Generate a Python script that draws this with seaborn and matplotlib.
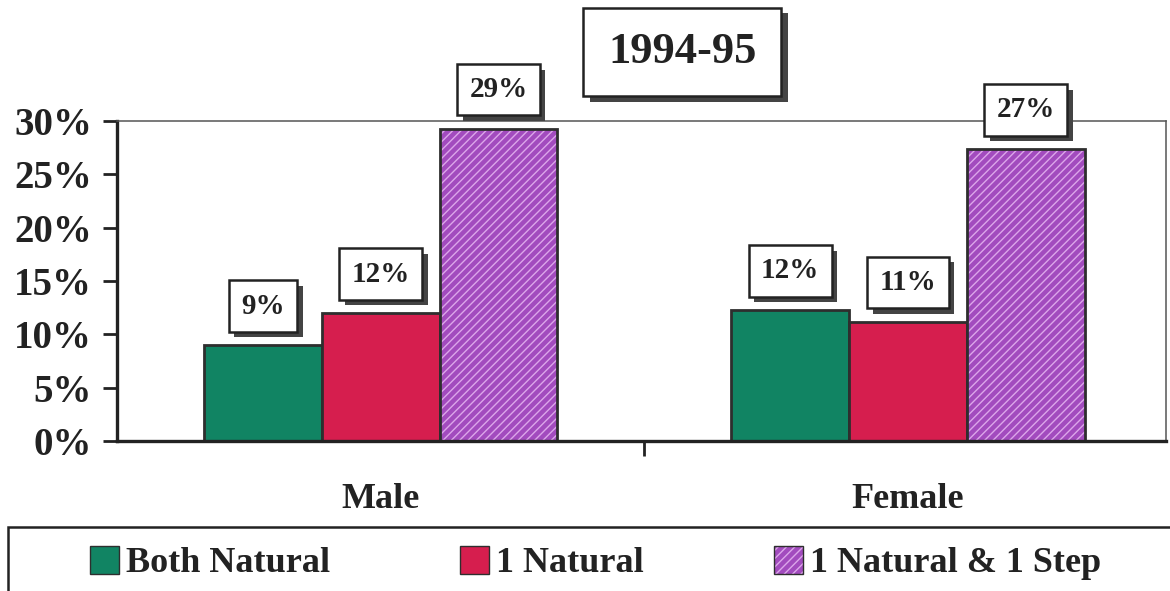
import numpy as np
import pandas as pd
import matplotlib
matplotlib.use('Agg')
import matplotlib.pyplot as plt
import matplotlib.colors as mcolors
import matplotlib.patches as mpatches
import matplotlib.patheffects as pe
import seaborn as sns

# data (percent)
groups = ['Male', 'Female']
series = ['Both Natural', '1 Natural', '1 Natural & 1 Step']
both_natural = [9.0, 12.3]
one_natural = [12.0, 11.2]
natural_step = [29.3, 27.4]
y_ticks = [0, 5, 10, 15, 20, 25, 30]

colors = ['#118463', '#d61e4e', '#a24bbe']
hatch_color = '#dca6ea'
ink = '#222222'
shadow = [pe.SimplePatchShadow(offset=(4, -4), shadow_rgbFace='#444444', alpha=1.0), pe.Normal()]

sns.set_theme(style='white')
plt.rcParams['font.family'] = ['Liberation Serif', 'DejaVu Serif']
plt.rcParams['font.weight'] = 'bold'
plt.rcParams['hatch.linewidth'] = 1.0

df = pd.DataFrame({
    'group': np.repeat(groups, len(series)),
    'series': series * len(groups),
    'pct': [v for trio in zip(both_natural, one_natural, natural_step) for v in trio],
})

fig = plt.figure(figsize=(11.7, 5.91), dpi=100)
ax = fig.add_axes([0.1, 0.254, 0.897, 0.541])

sns.barplot(data=df, x='group', y='pct', hue='series', order=groups,
            hue_order=series, palette=colors, width=0.67, saturation=1,
            edgecolor='#2e2e2e', linewidth=2, legend=False, ax=ax)

# hatch the step-family bars with light stripes
for p in ax.containers[2]:
    p.set_hatch('////')
    p._hatch_color = mcolors.to_rgba(hatch_color)

# boxed value labels with a drop shadow
for cont in ax.containers:
    for p in cont:
        x = p.get_x() + p.get_width() / 2
        h = p.get_height()
        t = ax.annotate(f'{h:.0f}%', (x, h), xytext=(0, 28), textcoords='offset points',
                        ha='center', va='center', fontsize=21, color=ink,
                        bbox=dict(boxstyle='square,pad=0.42', fc='white', ec=ink, lw=1.8),
                        zorder=5, annotation_clip=False)
        t.get_bbox_patch().set_path_effects(shadow)

ax.set_xlim(-0.5, 1.49)
ax.set_ylim(0, 30)
ax.set_yticks(y_ticks)
ax.set_yticklabels([f'{t}%' for t in y_ticks], fontsize=28, color=ink)
ax.set_xticks([0.5], minor=True)
ax.tick_params(axis='x', which='major', length=0, pad=30, labelsize=26, labelcolor=ink)
ax.tick_params(axis='x', which='minor', direction='out', length=11, width=2, color=ink, bottom=True)
ax.tick_params(axis='y', direction='out', length=10, width=2, color=ink, pad=8, left=True)
ax.set_xlabel('')
ax.set_ylabel('')

for side in ['left', 'bottom']:
    ax.spines[side].set_linewidth(2.4)
    ax.spines[side].set_color(ink)
for side in ['top', 'right']:
    ax.spines[side].set_linewidth(1.1)
    ax.spines[side].set_color('#555555')

# title box with shadow
title = fig.text(0.583, 0.912, '1994-95', ha='center', va='center', fontsize=32, color=ink,
                 bbox=dict(boxstyle='square,pad=0.55', fc='white', ec=ink, lw=1.8))
title.get_bbox_patch().set_path_effects(
    [pe.SimplePatchShadow(offset=(5, -4), shadow_rgbFace='#444444', alpha=1.0), pe.Normal()])

# legend
handles = [mpatches.Patch(facecolor=c, edgecolor='#2e2e2e', linewidth=1) for c in colors]
handles[2].set_hatch('////')
handles[2]._hatch_color = mcolors.to_rgba(hatch_color)
fig.legend(handles, series, loc='center', bbox_to_anchor=(0.509, 0.047), ncol=3,
           frameon=False, fontsize=26, handlelength=0.8, handleheight=0.8,
           handletextpad=0.2, columnspacing=3.6, labelcolor=ink)
fig.patches.append(mpatches.Rectangle((8 / 1170, -0.05), 1.1, (591 - 527) / 591 + 0.05,
                                      transform=fig.transFigure, fill=False,
                                      lw=1.8, ec=ink))

fig.savefig('out.png', dpi=100)
